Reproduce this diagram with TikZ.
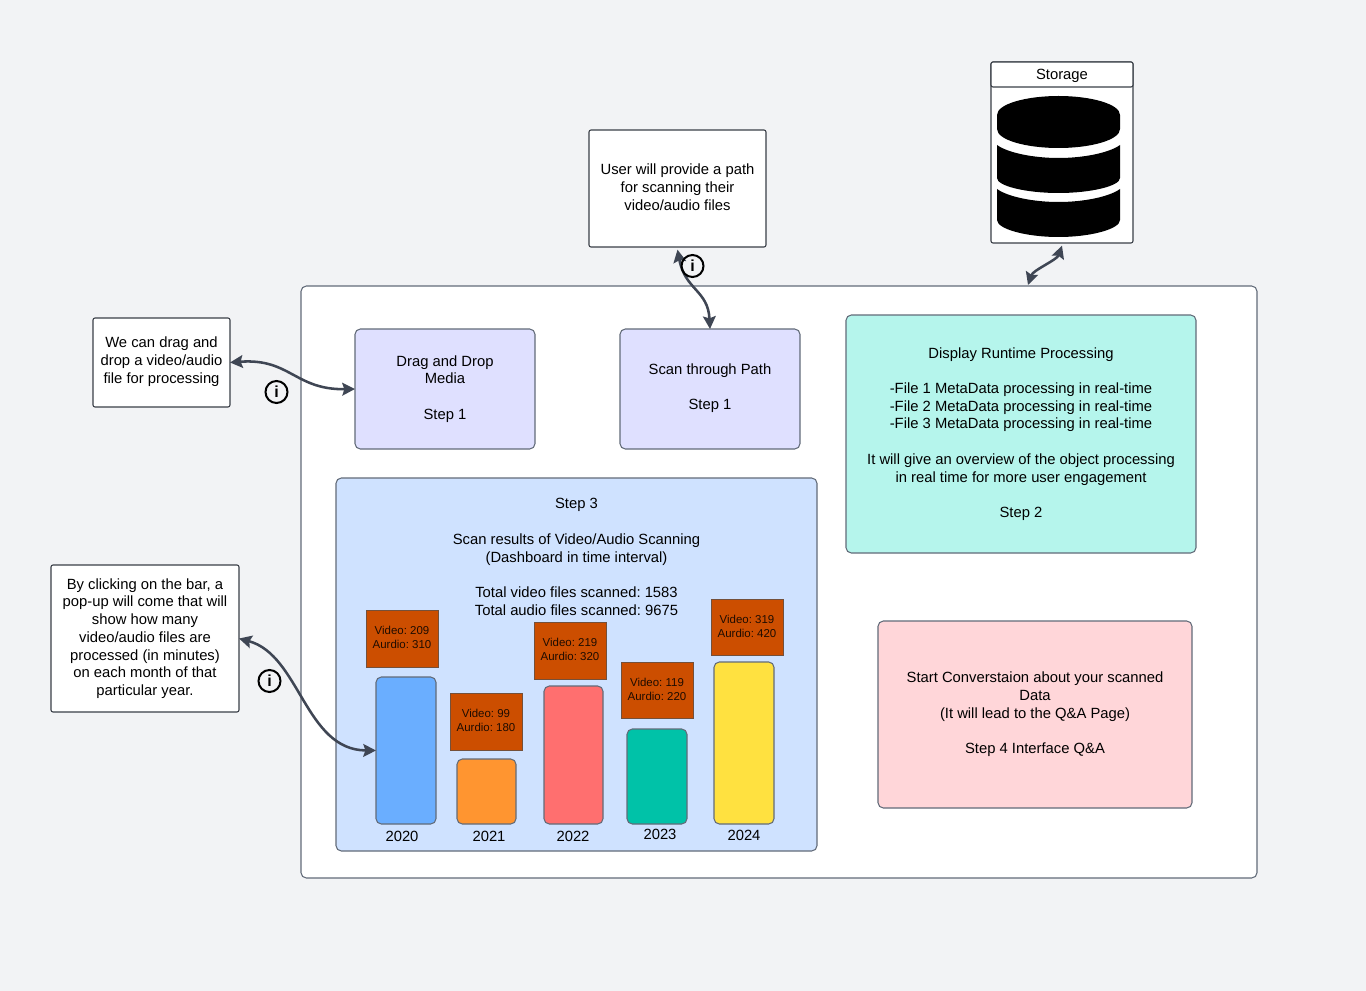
\documentclass[tikz,border=0pt]{standalone}
\usepackage{fontspec}
\setmainfont{Liberation Sans}
\usetikzlibrary{arrows.meta}
\definecolor{bgc}{HTML}{F2F3F5}
\definecolor{edgec}{HTML}{626B79}
\definecolor{notec}{HTML}{3A3F47}
\definecolor{arrowc}{HTML}{3F4654}
\definecolor{lav}{HTML}{DFE0FF}
\definecolor{teal}{HTML}{B5F5EC}
\definecolor{pinkc}{HTML}{FFD6D9}
\definecolor{skyc}{HTML}{CFE2FF}
\definecolor{orangec}{HTML}{CC4E00}
\definecolor{tagedge}{HTML}{74503A}
\definecolor{barA}{HTML}{6AAEFF}
\definecolor{barB}{HTML}{FF9530}
\definecolor{barC}{HTML}{FF6F6F}
\definecolor{barD}{HTML}{00C2A8}
\definecolor{barE}{HTML}{FFE140}
\tikzset{
  basebox/.style={draw=edgec,line width=0.8pt,inner sep=0pt,outer sep=0pt,align=center,font=\frenchspacing\fontsize{11.1}{13.3}\selectfont},
  card/.style={basebox,rounded corners=4pt},
  note/.style={basebox,draw=notec,fill=white,rounded corners=1.5pt},
  tag/.style={basebox,fill=orangec,draw=tagedge,line width=0.6pt,rounded corners=0pt,font=\frenchspacing\fontsize{8.6}{10.6}\selectfont,text=black!85!orangec},
  bar/.style={basebox,rounded corners=4pt},
  lbl/.style={inner sep=0pt,outer sep=0pt,align=center,font=\frenchspacing\fontsize{11.1}{13.3}\selectfont},
  link/.style={draw=arrowc,line width=1.9pt,{Stealth[length=9.5pt,width=9.5pt,inset=1.5pt]}-{Stealth[length=9.5pt,width=9.5pt,inset=1.5pt]}},
  infoicon/.style={circle,draw=black,line width=1.5pt,minimum size=16.5pt,inner sep=0pt,outer sep=0pt,font=\bfseries\fontsize{12}{12}\selectfont}
}
\newcommand{\bx}[7]{%
  \pgfmathsetmacro{\bxcx}{(#2+#4)/2}\pgfmathsetmacro{\bxcy}{(#3+#5)/2}%
  \pgfmathsetmacro{\bxw}{0.75*(#4-#2)}\pgfmathsetmacro{\bxh}{0.75*(#5-#3)}%
  \node[#6,minimum width=\bxw pt,minimum height=\bxh pt] (#1) at (\bxcx,\bxcy) {#7};}
\begin{document}
\begin{tikzpicture}[x=0.75pt,y=-0.75pt]
\useasboundingbox (0,0) rectangle (1366,991);
\fill[bgc] (0,0) rectangle (1366,991);

\bx{outer}{301}{286}{1257}{878}{card,fill=white}{}

\bx{drop}{355}{329}{535}{449}{card,fill=lav}{Drag and Drop\\Media\\\mbox{}\\Step 1}
\bx{scan}{620}{329}{800}{449}{card,fill=lav}{Scan through Path\\\mbox{}\\Step 1\\[-10pt]\mbox{}}
\bx{runtime}{846}{315}{1196}{553}{card,fill=teal}{Display Runtime Processing\\\mbox{}\\-File 1 MetaData processing in real-time\\-File 2 MetaData processing in real-time\\-File 3 MetaData processing in real-time\\\mbox{}\\It will give an overview of the object processing\\in real time for more user engagement\\\mbox{}\\Step 2}
\bx{chat}{878}{621}{1192}{808}{card,fill=pinkc}{Start Converstaion about your scanned\\Data\\(It will lead to the Q\&A Page)\\\mbox{}\\Step 4 Interface Q\&A}
\bx{dash}{336}{478}{817}{851}{card,fill=skyc}{}
\node[lbl] (dashtext) at (576.5,557) {Step 3\\\mbox{}\\Scan results of Video/Audio Scanning\\(Dashboard in time interval)\\\mbox{}\\Total video files scanned: 1583\\Total audio files scanned: 9675};

\bx{b20}{376}{677}{436}{824}{bar,fill=barA}{}
\bx{b21}{457}{759}{516}{824}{bar,fill=barB}{}
\bx{b22}{544}{686}{603}{824}{bar,fill=barC}{}
\bx{b23}{627}{729}{687}{824}{bar,fill=barD}{}
\bx{b24}{714}{662}{774}{824}{bar,fill=barE}{}
\bx{t20}{366}{610}{438}{667}{tag}{Video: 209\\Aurdio: 310\\[-9pt]\mbox{}}
\bx{t21}{450}{693}{522}{750}{tag}{Video: 99\\Aurdio: 180\\[-9pt]\mbox{}}
\bx{t22}{534}{622}{606}{679}{tag}{Video: 219\\Aurdio: 320\\[-9pt]\mbox{}}
\bx{t23}{621}{662}{693}{718}{tag}{Video: 119\\Aurdio: 220\\[-9pt]\mbox{}}
\bx{t24}{711}{599}{783}{655}{tag}{Video: 319\\Aurdio: 420\\[-9pt]\mbox{}}
\node[lbl] (y20) at (402,836) {2020};
\node[lbl] (y21) at (489,836) {2021};
\node[lbl] (y22) at (573,836) {2022};
\node[lbl] (y23) at (660,834.5) {2023};
\node[lbl] (y24) at (744,835) {2024};

\bx{dragnote}{93}{318}{230}{407}{note}{We can drag and\\drop a video/audio\\file for processing\\[-10pt]\mbox{}}
\bx{pathnote}{589}{130}{766}{247}{note}{User will provide a path\\for scanning their\\video/audio files\\[-11pt]\mbox{}}
\bx{popnote}{51}{565}{239}{712}{note}{By clicking on the bar, a\\pop-up will come that will\\show how many\\video/audio files are\\processed (in minutes)\\on each month of that\\particular year.}

\bx{store}{991}{62}{1133}{243}{note}{}
\bx{storehead}{991}{62}{1133}{87}{note}{}
\node[lbl] (storelabel) at (1062,75.5) {Storage};
\fill[black] (997,115) .. controls (997,104) and (1026,96) .. (1058.5,96) .. controls (1091,96) and (1120,104) .. (1120,115) -- (1120,129) .. controls (1120,140) and (1091,148) .. (1058.5,148) .. controls (1026,148) and (997,140) .. (997,129) -- cycle;
\fill[black] (997,145) .. controls (1008,153) and (1034,158) .. (1058.5,158) .. controls (1083,158) and (1109,153) .. (1120,145) -- (1120,178) .. controls (1120,186) and (1091,193) .. (1058.5,193) .. controls (1026,193) and (997,186) .. (997,178) -- cycle;
\fill[black] (997,189) .. controls (1008,197) and (1034,202) .. (1058.5,202) .. controls (1083,202) and (1109,197) .. (1120,189) -- (1120,220) .. controls (1120,229) and (1091,237) .. (1058.5,237) .. controls (1026,237) and (997,229) .. (997,220) -- cycle;

\coordinate (outertop) at (1028,285);
\coordinate (storefoot) at ([yshift=-2pt]store.south);
\coordinate (pathfoot) at ([yshift=-2pt]pathnote.south);
\draw[link] (storefoot) .. controls (1057,260) and (1033,270) .. (outertop);
\draw[link] (pathfoot) .. controls (685,290) and (708,290) .. (scan.north);
\draw[link] (dragnote.east) .. controls (290,358) and (295,390) .. (drop.west);
\draw[link] (popnote.east) .. controls (300,655) and (305,750) .. (b20.west);

\node[infoicon] (info1) at (692.5,266) {i};
\node[infoicon] (info2) at (276.5,392) {i};
\node[infoicon] (info3) at (269.5,681) {i};
\end{tikzpicture}
\end{document}
